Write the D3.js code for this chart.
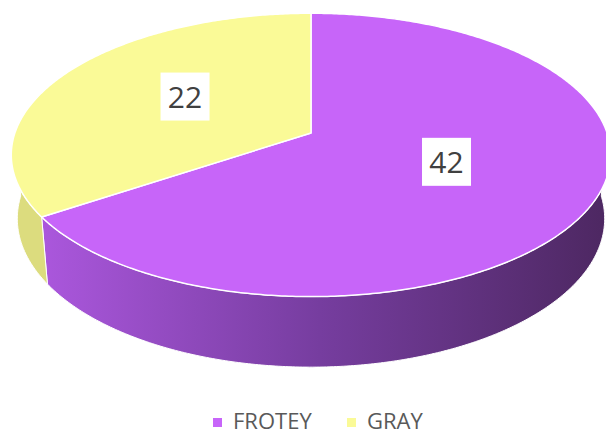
<!DOCTYPE html>
<html lang="en">
<head>
    <meta charset="utf-8">
    <title>3D Pie</title>
    <script src="https://d3js.org/d3.v7.min.js"></script>
    <style>
        body { margin: 0; background: #fff; }
        .legend text { font-family: "Open Sans", sans-serif; font-size: 22px; fill: #595959; }
        .label text { font-family: "Open Sans", sans-serif; font-size: 30px; fill: #404040; }
    </style>
</head>
<body>
<div id="chart"></div>
<script>

// data
const categories = ["FROTEY", "GRAY"];
const values = [42, 22];

// colours
const topColors = ["#c765f9", "#fafa97"];
const wallColors = [["#ab57dd", "#763d9f", "#4e2863"], ["#dcdc7e"]];

const width = 606, height = 436;

// simple perspective camera for the tilted disk
const cx = 311, cy = 133;
const r = 0.175;        // radius / camera distance
const depth = 0.043;    // thickness / camera distance
const sinP = 0.467, cosP = Math.sqrt(1 - sinP * sinP);
const focal = 1692;

function proj(theta, t, z) {
    const X = t * r * Math.sin(theta);
    const Y = t * r * Math.cos(theta) * sinP + z * depth * cosP;
    const Z = 1 + t * r * Math.cos(theta) * cosP - z * depth * sinP;
    return [cx + focal * X / Z, cy - focal * Y / Z];
}

function arcPoints(a0, a1, t, z) {
    const n = Math.max(2, Math.ceil((a1 - a0) / 0.01));
    return d3.range(n + 1).map(i => proj(a0 + (a1 - a0) * i / n, t, z));
}

const svg = d3.select("#chart")
  .append("svg")
    .attr("width", width)
    .attr("height", height);

const color = d3.scaleOrdinal().domain(categories).range(topColors);

const arcs = d3.pie().sort(null)(values);
const line = d3.line();

// gradient for the big wall
const defs = svg.append("defs");
const grad = defs.append("linearGradient")
    .attr("id", "wall0")
    .attr("gradientUnits", "userSpaceOnUse")
    .attr("x1", 40).attr("x2", 600).attr("y1", 0).attr("y2", 0);
wallColors[0].forEach((c, i, a) => {
    grad.append("stop").attr("offset", i / (a.length - 1)).attr("stop-color", c);
});

// outer walls, front half only
const walls = svg.append("g");
arcs.forEach((d, i) => {
    const a0 = Math.max(d.startAngle, Math.PI / 2);
    const a1 = Math.min(d.endAngle, 3 * Math.PI / 2);
    if (a1 <= a0) return;
    const pts = arcPoints(a0, a1, 1, 0).concat(arcPoints(a0, a1, 1, -1).reverse());
    walls.append("path")
        .attr("d", line(pts) + "Z")
        .attr("fill", wallColors[i].length > 1 ? "url(#wall0)" : wallColors[i][0])
        .attr("stroke", "#fff")
        .attr("stroke-width", 1)
        .attr("stroke-linejoin", "round");
});

// top faces
const tops = svg.append("g");
arcs.forEach((d, i) => {
    const pts = [proj(0, 0, 0)].concat(arcPoints(d.startAngle, d.endAngle, 1, 0));
    tops.append("path")
        .attr("d", line(pts) + "Z")
        .attr("fill", color(categories[i]))
        .attr("stroke", "#fff")
        .attr("stroke-width", 1.5)
        .attr("stroke-linejoin", "round");
});

// data labels
const labels = svg.append("g").attr("class", "label");
arcs.forEach((d, i) => {
    const mid = (d.startAngle + d.endAngle) / 2;
    const [lx, ly0] = proj(mid, 0.5, 0);
    const ly = ly0 - 5;
    labels.append("rect")
        .attr("x", lx - 24.5).attr("y", ly - 24)
        .attr("width", 49).attr("height", 48)
        .attr("fill", "#fff");
    labels.append("text")
        .attr("x", lx).attr("y", ly)
        .attr("text-anchor", "middle")
        .attr("dominant-baseline", "central")
        .text(values[i]);
});

// legend
const legend = svg.append("g").attr("class", "legend");
const legendX = [213, 347];
categories.forEach((c, i) => {
    legend.append("rect")
        .attr("x", legendX[i]).attr("y", 418)
        .attr("width", 9).attr("height", 9)
        .attr("fill", color(c));
    legend.append("text")
        .attr("x", legendX[i] + 20).attr("y", 429)
        .text(c);
});

</script>
</body>
</html>
